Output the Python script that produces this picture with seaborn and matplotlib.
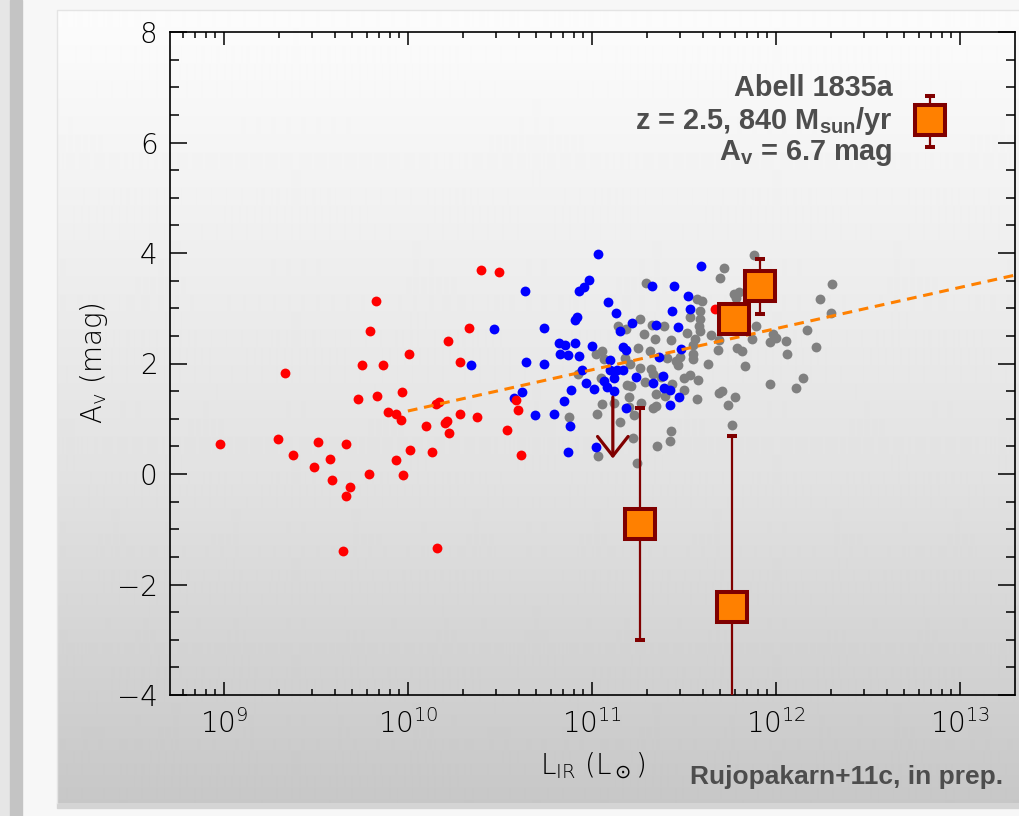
import numpy as np
import matplotlib
matplotlib.use("Agg")
import matplotlib.pyplot as plt
from matplotlib.patches import Rectangle
from matplotlib.ticker import LogLocator, MultipleLocator, NullFormatter
import seaborn as sns

# log10(L_IR / Lsun) and A_V (mag)
red_logL = [8.978, 9.33, 9.293, 9.373, 9.509, 9.489, 9.576, 9.59, 9.661, 9.685, 9.661, 9.728,
            9.752, 9.795, 9.828, 9.833, 9.864, 9.788, 9.89, 9.938, 9.962, 9.967, 10.004, 9.938,
            9.974, 10.01, 10.098, 10.129, 10.152, 10.167, 10.2, 10.214, 10.221, 10.216, 10.283,
            10.333, 10.286, 10.377, 10.397, 10.495, 9.647, 10.158, 10.589, 10.601, 10.538,
            10.614, 11.672]
red_av = [0.54, 1.82, 0.63, 0.34, 0.585, 0.13, 0.28, -0.11, 0.54, -0.23, -0.39, 1.36,
          1.97, 2.59, 3.14, 1.42, 1.97, 0.0, 1.12, 1.08, 0.98, 1.48, 2.17, 0.25,
          -0.01, 0.44, 0.86, 0.40, 1.26, 1.31, 0.92, 0.96, 0.74, 2.40, 2.03,
          2.65, 1.08, 1.03, 3.69, 3.65, -1.39, -1.34, 1.34, 1.15, 0.80,
          0.34, 2.99]

blue_logL = [10.342, 10.47, 11.031, 10.634, 10.741, 10.984, 10.958, 10.931, 11.09, 11.13, 10.917,
             10.911, 11.22, 11.152, 11.35, 11.435, 11.326, 11.447, 11.525, 11.534, 11.592, 11.469,
             10.821, 10.855, 10.911, 10.826, 10.871, 10.929, 11.003, 10.644, 10.741, 11.167,
             11.185, 11.101, 10.946, 11.101, 11.134, 11.17, 11.123, 11.24, 11.367, 11.484,
             11.384, 11.333, 11.39, 11.427, 11.473, 11.424, 11.065, 11.08, 11.121, 10.97,
             11.012, 10.886, 10.621, 10.576, 10.848, 10.69, 10.793, 10.879, 11.185, 10.871, 11.022]
blue_av = [1.98, 2.62, 3.99, 3.32, 2.64, 3.51, 3.38, 3.31, 3.11, 2.91, 2.85,
           2.79, 2.73, 2.59, 2.70, 2.95, 3.40, 3.41, 3.23, 2.98, 3.77, 2.66,
           2.37, 2.33, 2.37, 2.17, 2.15, 2.13, 2.32, 2.03, 1.99, 2.29,
           2.25, 2.07, 1.88, 1.88, 1.89, 1.89, 1.74, 1.76, 2.12, 2.27,
           1.78, 1.64, 1.56, 1.52, 1.40, 1.24, 1.68, 1.58, 1.51, 1.65,
           1.53, 1.52, 1.49, 1.37, 1.32, 1.07, 1.08, 0.87, 1.19, 0.39, 0.49]

gray_logL = [11.882, 11.717, 11.699, 11.297, 11.569, 11.6, 11.784, 11.589, 11.536, 11.587, 11.58,
             11.261, 11.326, 11.39, 11.143, 11.183, 11.283, 11.519, 11.589, 11.342, 11.43, 11.558,
             11.55, 11.65, 11.692, 11.688, 11.789, 11.816, 11.87, 11.892, 11.055, 11.022, 11.253,
             11.318, 11.408, 11.46, 11.478, 11.552, 11.55, 11.47, 11.068, 11.18, 11.21, 11.264,
             11.32, 11.332, 11.375, 10.927, 11.047, 11.193, 11.215, 11.288, 11.436, 11.5, 11.533,
             11.578, 11.634, 11.834, 11.346, 11.2, 11.399, 11.5, 11.573, 11.69, 11.71, 11.777,
             11.742, 11.762, 11.97, 12.109, 12.145, 12.063, 12.056, 11.984, 11.97, 12.0, 12.172,
             12.216, 12.299, 12.24, 12.303, 11.055, 11.028, 11.12, 11.2, 11.227, 11.152, 11.269,
             11.33, 11.35, 10.875, 11.223, 11.43, 11.424, 11.353, 11.036, 11.245, 11.77, 11.80]
gray_av = [3.96, 3.73, 3.54, 3.45, 3.16, 3.14, 3.19, 2.95, 2.84, 2.80, 2.67,
           2.80, 2.70, 2.68, 2.67, 2.62, 2.54, 2.56, 2.58, 2.44, 2.43, 2.45,
           2.33, 2.52, 2.43, 2.24, 2.28, 2.22, 2.44, 2.67, 2.22, 2.17, 2.28,
           2.23, 2.10, 2.04, 2.12, 2.18, 2.08, 1.98, 2.08, 2.10, 2.00, 1.92,
           1.90, 1.81, 1.75, 1.81, 1.73, 1.61, 1.59, 1.67, 1.62, 1.73, 1.80,
           1.70, 2.00, 1.95, 1.45, 1.40, 1.42, 1.52, 1.35, 1.46, 1.50, 1.40,
           1.24, 0.89, 1.62, 1.56, 1.74, 2.17, 2.40, 2.53, 2.39, 2.46, 2.61,
           2.30, 2.92, 3.17, 3.43, 1.26, 1.09, 1.28, 1.22, 1.06, 0.94, 1.28,
           1.19, 1.23, 1.03, 0.66, 0.77, 0.59, 0.50, 0.33, 0.20, 3.25, 3.30]

# dashed fit line
fit_logL = [10.0, 13.3]
fit_av = [1.14, 3.60]

# orange squares with error bars (first one is Abell 1835a)
sq_logL = [12.837, 11.913, 11.772, 11.263, 11.763]
sq_av = [6.41, 3.40, 2.80, -0.91, -2.41]
sq_err_lo = [0.49, 0.50, 0.0, 2.09, 3.60]
sq_err_hi = [0.43, 0.49, 0.0, 2.10, 3.10]

# upper limit arrow
lim_logL = [11.114]
lim_av_from = [1.39]
lim_av_to = [0.28]

W, H = 1019, 816
plt.rcParams['mathtext.fontset'] = 'custom'
plt.rcParams['mathtext.rm'] = 'DejaVu Sans'
plt.rcParams['mathtext.bf'] = 'Liberation Sans:bold'
plt.rcParams['mathtext.fallback'] = 'stix'

fig = plt.figure(figsize=(W / 100, H / 100), dpi=100, facecolor='white')

# slide-like background
bg = fig.add_axes([0, 0, 1, 1], zorder=-10)
bg.add_patch(Rectangle((0, 0), W, H, color='#f7f7f7', zorder=0))
bg.add_patch(Rectangle((0, 0), 10, H, color='#e6e6e6', zorder=1))
bg.add_patch(Rectangle((10, 0), 12, H, color='#c4c4c4', zorder=1))
bg.add_patch(Rectangle((57, 803), W, 5, color='#d4d4d4', zorder=1))
rows = np.arange(10, 803)
shade = np.interp(rows, [10, 474, 802], [252, 226, 199]) / 255.0
grad = np.repeat(shade[:, None], 2, axis=1)
bg.imshow(grad, cmap='gray', vmin=0, vmax=1, extent=(57, W, 803, 10), aspect='auto',
          interpolation='bilinear', zorder=2)
bg.plot([57, 57, W], [803, 10, 10], color='#e4e4e4', lw=1, zorder=3)
bg.set_xlim(0, W)
bg.set_ylim(H, 0)
bg.axis('off')

ax = fig.add_axes([170 / W, 1 - 695 / H, (1015 - 170) / W, (695 - 32) / H])
ax.set_facecolor('none')

sns.scatterplot(x=10 ** np.array(gray_logL), y=gray_av, color='#808080', s=50,
                linewidth=0, ax=ax, zorder=2)
sns.scatterplot(x=10 ** np.array(blue_logL), y=blue_av, color='#0000ff', s=50,
                linewidth=0, ax=ax, zorder=3)
sns.scatterplot(x=10 ** np.array(red_logL), y=red_av, color='#ff0000', s=50,
                linewidth=0, ax=ax, zorder=4)
sns.lineplot(x=10 ** np.array(fit_logL), y=fit_av, color='#ff8000', lw=2.2,
             linestyle=(0, (3.2, 2.2)), ax=ax, zorder=5)

ax.errorbar(10 ** np.array(sq_logL), sq_av, yerr=[sq_err_lo, sq_err_hi], fmt='s',
            ms=21.5, mfc='#ff8000', mec='#800000', mew=2.9, ecolor='#800000',
            elinewidth=1.6, capsize=3.6, capthick=1.6, zorder=6)

for lx, a0, a1 in zip(lim_logL, lim_av_from, lim_av_to):
    ax.annotate('', xy=(10 ** lx, a1), xytext=(10 ** lx, a0),
                arrowprops=dict(arrowstyle='->,head_length=0.7,head_width=0.55',
                                mutation_scale=20, color='#800000', lw=2.3,
                                shrinkA=0, shrinkB=0), zorder=6)

ax.set_xscale('log')
ax.set_xlim(10 ** 8.707, 10 ** 13.30)
ax.set_ylim(-4, 8)
ax.xaxis.set_major_locator(LogLocator(base=10, numticks=20))
ax.xaxis.set_minor_locator(LogLocator(base=10, subs=np.arange(2, 10), numticks=20))
ax.xaxis.set_minor_formatter(NullFormatter())
ax.yaxis.set_major_locator(MultipleLocator(2))
ax.yaxis.set_minor_locator(MultipleLocator(0.5))

for s in ax.spines.values():
    s.set_linewidth(1.2)
ax.tick_params(which='both', direction='in', top=True, right=True, width=1.1,
               labelsize=20, colors='black')
ax.tick_params(axis='x', which='major', length=9.5, pad=10)
ax.tick_params(axis='x', which='minor', length=4.5)
ax.tick_params(axis='y', which='major', length=12, pad=9)
ax.tick_params(axis='y', which='minor', length=6.5)
for lab in ax.get_xticklabels() + ax.get_yticklabels():
    lab.set_fontweight('light')

ax.set_xlabel(r'L$_\mathregular{IR}$ (L$_\odot$)', fontsize=20, fontweight='light', labelpad=8)
ax.set_ylabel(r'A$_\mathregular{v}$ (mag)', fontsize=20, fontweight='light', labelpad=5)

tc = '#4d4d4d'
fs = 20.8
fig.text(893 / W, 1 - 88 / H, 'Abell 1835a', ha='right', va='center', fontsize=fs,
         fontweight='bold', color=tc, family='Liberation Sans')
fig.text(893 / W, 1 - 121 / H, r'z = 2.5, 840 M$_\mathbf{sun}$/yr', ha='right', va='center',
         fontsize=fs, fontweight='bold', color=tc, family='Liberation Sans')
fig.text(893 / W, 1 - 153 / H, r'A$_\mathbf{v}$ = 6.7 mag', ha='right', va='center',
         fontsize=fs, fontweight='bold', color=tc, family='Liberation Sans')
fig.text(690 / W, 1 - 777 / H, 'Rujopakarn+11c, in prep.', ha='left', va='center',
         fontsize=19, fontweight='bold', color=tc, family='Liberation Sans')

fig.savefig('out.png', dpi=100, facecolor=fig.get_facecolor())
